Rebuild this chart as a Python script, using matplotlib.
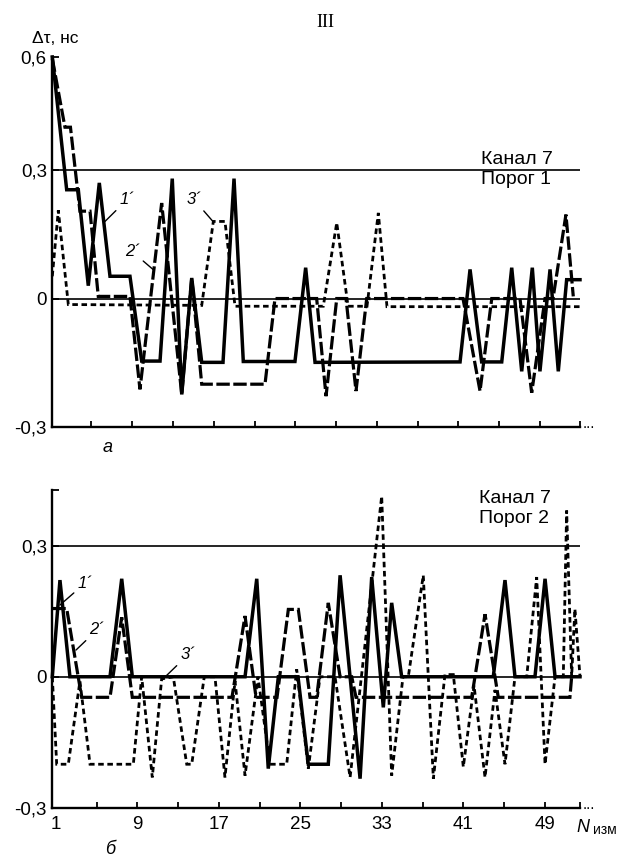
import matplotlib
matplotlib.use("Agg")
import matplotlib.pyplot as plt
import numpy as np

plt.rcParams['font.family'] = ['Liberation Sans', 'DejaVu Sans']

# --- panel a (Порог 1) ---
a1_x = [0.66, 2.07, 3.21, 4.19, 5.27, 6.32, 8.28, 9.43, 11.23, 12.43, 13.36, 14.34, 15.32,
        17.41, 18.49, 19.40, 24.47, 25.52, 26.44, 40.67, 41.65, 42.79, 44.76, 45.74, 46.72,
        47.76, 48.51, 49.50, 50.31, 51.13, 52.44]
a1_y = [0.564, 0.254, 0.254, 0.03, 0.27, 0.052, 0.052, -0.146, -0.146, 0.28, -0.224, 0.048, -0.149,
        -0.149, 0.28, -0.147, -0.147, 0.072, -0.149, -0.148, 0.068, -0.148, -0.148, 0.072, -0.17,
        0.072, -0.17, 0.068, -0.17, 0.044, 0.044]

a2_x = [0.66, 1.90, 2.44, 3.37, 4.36, 5.17, 8.28, 9.26, 11.39, 13.36, 14.34, 15.32, 17.44,
        21.53, 22.51, 26.60, 27.52, 28.57, 29.48, 30.46, 31.51, 40.96, 42.63, 43.78, 46.55,
        47.70, 49.01, 49.79, 51.06, 51.78]
a2_y = [0.56, 0.40, 0.40, 0.204, 0.204, 0.005, 0.005, -0.212, 0.223, -0.224, 0.048, -0.2, -0.2,
        -0.2, 0.0, 0.0, -0.228, 0.0, 0.0, -0.216, 0.0, 0.0, -0.216, 0.0, 0.0,
        -0.22, 0.0, 0.0, 0.196, 0.005]

a3_x = [0.66, 1.25, 2.23, 15.32, 16.46, 17.60, 18.59, 27.25, 28.57, 29.68, 31.54, 32.65,
        33.50, 52.44]
a3_y = [0.052, 0.206, -0.014, -0.016, 0.18, 0.18, -0.018, -0.018, 0.177, -0.018, -0.018, 0.2,
        -0.019, -0.019]

# --- panel б (Порог 2) ---
b1_x = [0.66, 1.41, 2.39, 6.32, 7.47, 8.51, 19.57, 20.72, 21.85, 22.84, 24.77, 25.78, 27.74,
        28.90, 30.86, 32.00, 33.14, 33.96, 34.94, 43.93, 45.08, 46.06, 48.02, 49.01, 49.99, 52.44]
b1_y = [0.0, 0.221, 0.0, 0.0, 0.224, 0.0, 0.0, 0.224, -0.21, 0.0, 0.0, -0.2, -0.2,
        0.232, -0.233, 0.228, -0.07, 0.169, 0.0, 0.0, 0.221, 0.0, 0.0, 0.224, 0.0, 0.0]

b2_x = [0.66, 2.07, 3.54, 6.32, 7.47, 8.51, 18.29, 19.57, 20.65, 22.71, 23.82, 24.80, 25.95,
        26.60, 27.74, 28.90, 30.04, 30.46, 41.81, 43.12, 44.42, 51.45, 51.62]
b2_y = [0.156, 0.156, -0.047, -0.047, 0.136, -0.047, -0.047, 0.139, -0.047, -0.047, 0.154, 0.154,
        -0.047, -0.047, 0.169, 0.0, 0.0, -0.047, -0.047, 0.143, -0.047, -0.047, 0.0]

b3_x = [0.66, 1.09, 2.23, 3.37, 4.36, 8.61, 9.43, 10.47, 11.39, 12.53, 13.85, 14.34, 15.57,
        16.62, 17.60, 18.59, 19.57, 20.84, 22.02, 23.66, 24.64, 25.78, 26.93, 28.40, 29.88,
        32.98, 33.96, 35.07, 35.59, 37.06, 38.05, 39.19, 40.01, 40.99, 42.04, 43.12, 44.10,
        45.08, 46.06, 47.21, 48.19, 49.01, 49.99, 50.80, 51.13, 51.62, 51.94, 52.44]
b3_y = [0.0, -0.2, -0.2, -0.01, -0.2, -0.2, 0.0, -0.23, -0.005, 0.0, -0.2, -0.2, 0.0,
        0.0, -0.23, -0.01, -0.226, 0.0, -0.2, -0.2, 0.017, -0.21, 0.0, 0.0, -0.23,
        0.413, -0.226, 0.0, 0.0, 0.232, -0.233, 0.005, 0.005, -0.206, -0.02, -0.23, -0.03,
        -0.2, 0.0, 0.0, 0.228, -0.2, 0.0, 0.0, 0.38, 0.0, 0.155, 0.0]

a_yticks = [-0.3, 0.0, 0.3, 0.564]
a_ylabels = ['-0,3', '0', '0,3', '0,6']
b_yticks = [-0.3, 0.0, 0.3, 0.427]
b_ylabels = ['-0,3', '0', '0,3', '']
b_xlabel_vals = [1, 9, 17, 25, 33, 41, 49]
x_end = 52.44

# line looks for curves 1', 2', 3'
styles = {
    1: dict(color='black', lw=2.5, solid_joinstyle='miter'),
    2: dict(color='black', lw=2.3, dashes=(4.2, 1.1), dash_joinstyle='miter'),
    3: dict(color='black', lw=2.0, dashes=(2.0, 1.3), dash_joinstyle='miter'),
}


def style_panel(ax, ylim, yticks, ylabels, xticks, xlabels):
    ax.set_xlim(0.66, x_end)
    ax.set_ylim(*ylim)
    for side in ('top', 'right'):
        ax.spines[side].set_visible(False)
    for side in ('left', 'bottom'):
        ax.spines[side].set_linewidth(1.7)
    ax.axhline(0.3, color='black', lw=1.2, zorder=1)
    ax.axhline(0.0, color='black', lw=1.2, zorder=1)
    ax.set_yticks(yticks)
    ax.set_yticklabels(ylabels)
    ax.set_xticks(xticks)
    ax.set_xticklabels(xlabels)
    ax.tick_params(axis='both', direction='in', width=1.3, labelsize=13.5)
    ax.tick_params(axis='x', length=4.5, pad=6)
    ax.tick_params(axis='y', length=5, pad=4)


fig = plt.figure(figsize=(6.25, 8.58), dpi=100)
ax_a = fig.add_axes([0.0837, 0.5023, 0.8443, 0.4313])
ax_b = fig.add_axes([0.0837, 0.0583, 0.8443, 0.3706])

a_xticks = list(np.arange(4.5, 49, 4)) + [x_end]
style_panel(ax_a, (-0.3, 0.564), a_yticks, a_ylabels, a_xticks, [''] * len(a_xticks))

b_xticks = list(np.arange(1, 50, 4)) + [x_end]
b_xlabels = [str(v) if v in b_xlabel_vals else '' for v in np.arange(1, 50, 4)] + ['']
style_panel(ax_b, (-0.3, 0.427), b_yticks, b_ylabels, b_xticks, b_xlabels)
ax_b.xaxis.get_major_ticks()[0].tick1line.set_visible(False)

ax_a.plot(a3_x, a3_y, clip_on=False, zorder=3, **styles[3])
ax_a.plot(a2_x, a2_y, clip_on=False, zorder=4, **styles[2])
ax_a.plot(a1_x, a1_y, clip_on=False, zorder=5, **styles[1])

ax_b.plot(b3_x, b3_y, clip_on=False, zorder=3, **styles[3])
ax_b.plot(b2_x, b2_y, clip_on=False, zorder=4, **styles[2])
ax_b.plot(b1_x, b1_y, clip_on=False, zorder=5, **styles[1])

# curve labels with leader lines
lead = dict(arrowstyle='-', lw=1.0, color='black', shrinkA=1, shrinkB=0)
lab = dict(fontsize=12, style='italic', ha='center', va='center')
ax_a.annotate("1´", xy=(5.83, 0.180), xytext=(7.99, 0.231), arrowprops=lead, **lab)
ax_a.annotate("2´", xy=(10.54, 0.068), xytext=(8.48, 0.110), arrowprops=lead, **lab)
ax_a.annotate("3´", xy=(16.42, 0.180), xytext=(14.56, 0.231), arrowprops=lead, **lab)
ax_b.annotate("1´", xy=(1.41, 0.164), xytext=(3.87, 0.214), arrowprops=lead, **lab)
ax_b.annotate("2´", xy=(2.98, 0.061), xytext=(5.04, 0.107), arrowprops=lead, **lab)
ax_b.annotate("3´", xy=(11.52, -0.005), xytext=(13.96, 0.050), arrowprops=lead, **lab)

ax_a.text(0.812, 0.745, "Канал 7\nПорог 1", transform=ax_a.transAxes, fontsize=14,
          ha='left', va='top', linespacing=1.2)
ax_b.text(0.808, 1.0, "Канал 7\nПорог 2", transform=ax_b.transAxes, fontsize=14,
          ha='left', va='top', linespacing=1.2)

# figure-level captions
fig.text(0.52, 0.974, "III", family=['Liberation Serif', 'DejaVu Serif'], fontsize=13,
         ha='center', va='center')
fig.text(0.051, 0.9557, "Δτ, нс", fontsize=12.5, ha='left', va='center')
fig.text(0.1728, 0.4779, "а", fontsize=13, style='italic', ha='center', va='center')
fig.text(0.176, 0.0099, "б", fontsize=13, style='italic', ha='center', va='center')
fig.text(0.923, 1 - 832 / 858, "N", fontsize=13, style='italic', ha='left', va='baseline')
fig.text(0.949, 1 - 834 / 858, "изм", fontsize=10, ha='left', va='baseline')
fig.text(0.932, 1 - 428 / 858, "...", fontsize=11, ha='left', va='baseline')
fig.text(0.932, 1 - 809 / 858, "...", fontsize=11, ha='left', va='baseline')

fig.savefig("out.png", dpi=100, facecolor='white')
plt.close(fig)
